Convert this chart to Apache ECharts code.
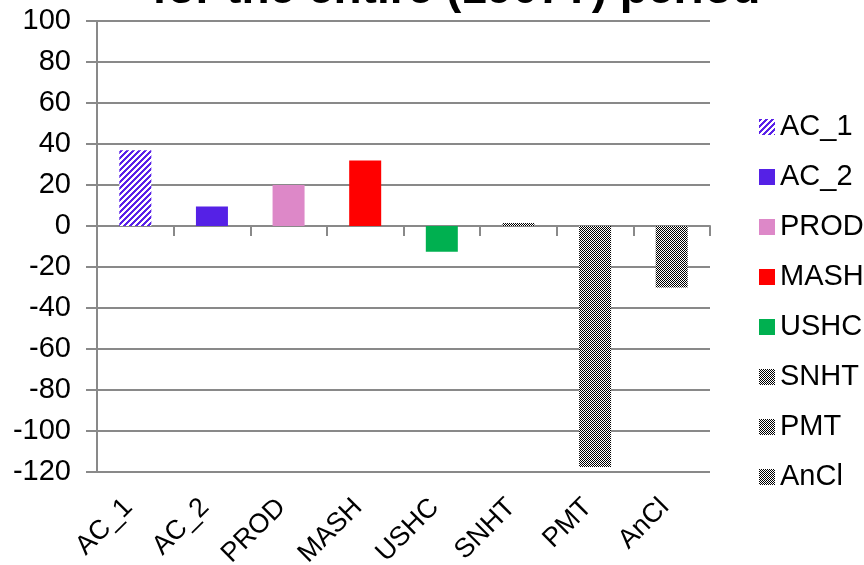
<!DOCTYPE html>
<html>
<head>
<meta charset="utf-8">
<script src="https://cdn.jsdelivr.net/npm/echarts@6/dist/echarts.min.js"></script>
<style>
  html, body { margin: 0; padding: 0; background: #ffffff; }
  #chart { width: 864px; height: 565px; }
</style>
</head>
<body>
<div id="chart"></div>
<script>
// Categories and values (one bar per method)
const categories = ['AC_1', 'AC_2', 'PROD', 'MASH', 'USHC', 'SNHT', 'PMT', 'AnCl'];
const values = [37, 9.5, 20, 32, -12.5, 1.5, -117.5, -30];
const yTicks = { min: -120, max: 100, step: 20 };
const titleText = 'for the entire (1907?) period';

// Fill patterns
function hatchPattern(color) {
  const c = document.createElement('canvas');
  c.width = 6; c.height = 6;
  const ctx = c.getContext('2d');
  ctx.fillStyle = '#ffffff';
  ctx.fillRect(0, 0, 6, 6);
  ctx.fillStyle = color;
  for (let x = 0; x < 6; x++) {
    for (let y = 0; y < 6; y++) {
      if ((x + y) % 6 < 3) ctx.fillRect(x, y, 1, 1);
    }
  }
  return { image: c, repeat: 'repeat' };
}
function checkerPattern() {
  const c = document.createElement('canvas');
  c.width = 2; c.height = 2;
  const ctx = c.getContext('2d');
  ctx.fillStyle = '#ffffff';
  ctx.fillRect(0, 0, 2, 2);
  ctx.fillStyle = '#000000';
  ctx.fillRect(0, 0, 1, 1);
  ctx.fillRect(1, 1, 1, 1);
  return { image: c, repeat: 'repeat' };
}

const fills = [
  hatchPattern('#5a22e8'),
  '#5521e6',
  '#dd88c8',
  '#ff0000',
  '#00b050',
  checkerPattern(),
  checkerPattern(),
  checkerPattern()
];

const gridColor = '#898989';
const fontFamily = '"Liberation Sans", Arial, sans-serif';

const series = categories.map((name, i) => ({
  name: name,
  type: 'bar',
  stack: 'all',
  xAxisIndex: 0,
  barWidth: 32,
  itemStyle: { color: fills[i] },
  data: categories.map((_, j) => (j === i ? values[i] : '-'))
}));

const chart = echarts.init(document.getElementById('chart'), null, { renderer: 'canvas' });
chart.setOption({
  animation: false,
  backgroundColor: '#ffffff',
  grid: { left: 97, right: 154, top: 21, bottom: 93, containLabel: false, outerBoundsMode: 'none' },
  graphic: [{
    type: 'text',
    left: 152,
    top: -33,
    style: {
      text: titleText,
      font: 'bold 46px ' + fontFamily,
      fill: '#000000'
    }
  }],
  legend: {
    orient: 'vertical',
    left: 759,
    top: 112,
    padding: 0,
    itemWidth: 16,
    itemHeight: 16,
    itemGap: 20,
    icon: 'rect',
    textStyle: { fontSize: 29, lineHeight: 30, color: '#000000', fontFamily: fontFamily },
    data: categories
  },
  xAxis: [{
    type: 'category',
    data: categories,
    position: 'bottom',
    axisLine: { onZero: true, lineStyle: { color: gridColor, width: 2 } },
    axisTick: { show: true, length: 10, lineStyle: { color: gridColor, width: 2 } },
    axisLabel: { show: false },
    splitLine: { show: false }
  }, {
    type: 'category',
    data: categories,
    position: 'bottom',
    axisLine: { show: false, onZero: false },
    axisTick: { show: false },
    axisLabel: {
      rotate: 45,
      margin: 24,
      padding: [0, 10, 0, 0],
      fontSize: 27,
      color: '#000000',
      fontFamily: fontFamily
    },
    splitLine: { show: false }
  }],
  yAxis: {
    type: 'value',
    min: yTicks.min,
    max: yTicks.max,
    interval: yTicks.step,
    axisLine: { show: true, lineStyle: { color: gridColor, width: 2 } },
    axisTick: { show: true, length: 11, lineStyle: { color: gridColor, width: 2 } },
    axisLabel: { margin: 26, fontSize: 29, color: '#000000', fontFamily: fontFamily },
    splitLine: { show: true, lineStyle: { color: gridColor, width: 2 } }
  },
  series: series
});
</script>
</body>
</html>
